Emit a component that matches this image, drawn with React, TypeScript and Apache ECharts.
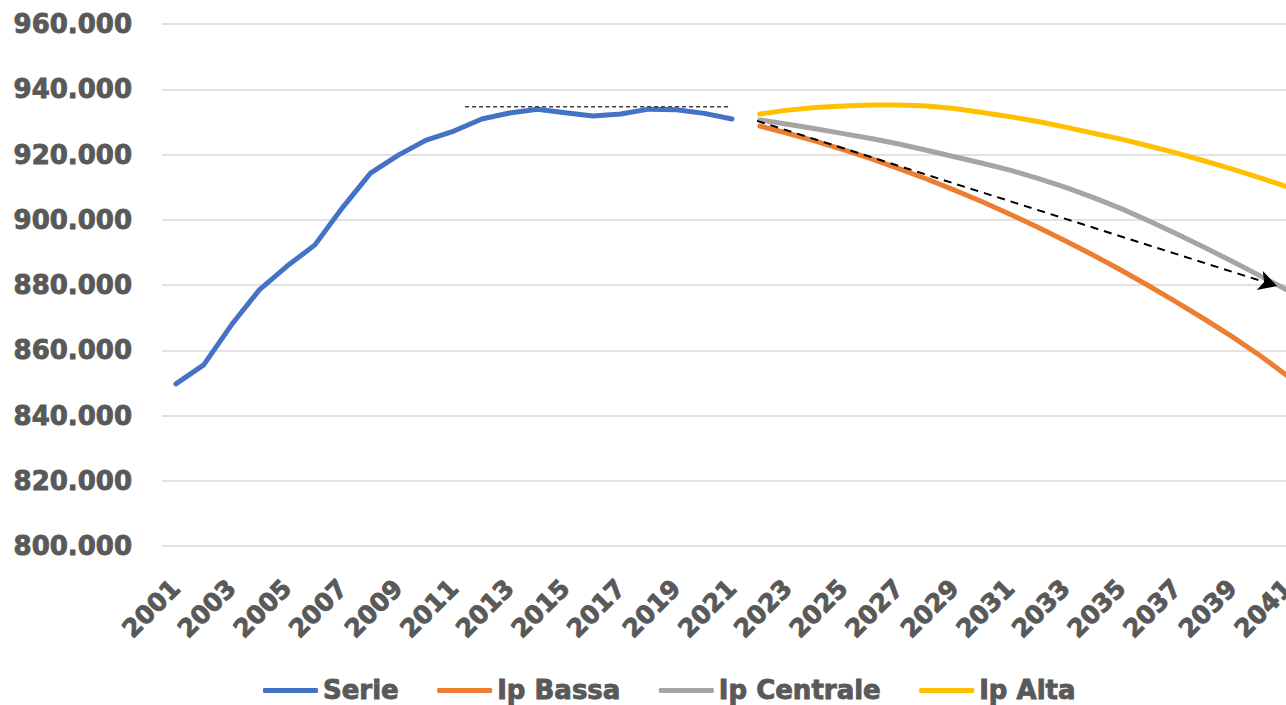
import React, { useEffect, useRef } from "react";
import * as echarts from "echarts";

const years: string[] = [];
for (let y = 2001; y <= 2041; y++) years.push(String(y));

const serieValues = [
  849700, 855500, 867800, 878500, 885800, 892300, 903800, 914300, 919800, 924400,
  927200, 930900, 932700, 933900, 932800, 931800, 932400, 933900, 933700, 932600,
  930900,
];

const ipBassaValues = [
  928700, 926500, 924100, 921500, 918700, 915700, 912500, 909100, 905500, 901700,
  897700, 893500, 889100, 884500, 879700, 874700, 869500, 864100, 858300, 852000,
];

const ipCentraleValues = [
  930600, 929300, 927900, 926400, 924900, 923200, 921300, 919300, 917300, 915200,
  912700, 909900, 906800, 903400, 899600, 895600, 891500, 887200, 882800, 878300,
];

const ipAltaValues = [
  932400, 933600, 934400, 934900, 935200, 935200, 934900, 934100, 932900, 931600,
  930100, 928400, 926500, 924700, 922600, 920400, 918000, 915500, 912800, 910000,
];

// reference guides: [category index, value]
const plateauLine = [
  [10.4, 934600],
  [19.9, 934600],
];
const trendArrow = [
  [20.9, 930300],
  [39.6, 879700],
];

const FONT = "DejaVu Sans";
const TEXT_COLOR = "#595959";

function fmt(v: number): string {
  const th = Math.floor(v / 1000);
  const rest = Math.round(v - th * 1000);
  return th + "." + String(rest).padStart(3, "0");
}

export default function App() {
  const ref = useRef<HTMLDivElement>(null);

  useEffect(() => {
    if (!ref.current) return;
    const chart = echarts.init(ref.current, undefined, { renderer: "svg" });

    const nHist = serieValues.length;
    const pad = (arr: number[], before: number) => [
      ...new Array(before).fill(null),
      ...arr,
    ];

    const lineBase = (name: string, color: string, data: (number | null)[]) => ({
      name,
      type: "line",
      data,
      symbol: "none",
      showSymbol: false,
      smooth: false,
      connectNulls: false,
      lineStyle: { color, width: 5, cap: "round", join: "round" },
      itemStyle: { color },
      z: 3,
    });

    const heavy = {
      fontFamily: FONT,
      fontWeight: "bold",
      color: TEXT_COLOR,
      textBorderColor: TEXT_COLOR,
      textBorderWidth: 0.9,
    };

    chart.setOption({
      animation: false,
      backgroundColor: "#ffffff",
      grid: { left: 162, right: 8, top: 24, height: 522, containLabel: false },
      legend: {
        data: ["Serie", "Ip Bassa", "Ip Centrale", "Ip Alta"],
        left: 258,
        top: 672,
        icon: "roundRect",
        itemWidth: 55,
        itemHeight: 5,
        itemGap: 38,
        textStyle: { ...heavy, fontSize: 26 },
      },
      xAxis: [
        {
          type: "category",
          data: years,
          boundaryGap: true,
          axisLine: { show: false },
          axisTick: { show: false },
          axisLabel: {
            interval: 1,
            rotate: 45,
            margin: 38,
            align: "right",
            verticalAlign: "middle",
            fontSize: 25,
            ...heavy,
          },
          splitLine: { show: false },
        },
        {
          type: "value",
          min: -0.5,
          max: 40.5,
          show: false,
          splitLine: { show: false },
        },
      ],
      yAxis: {
        type: "value",
        min: 800000,
        max: 960000,
        interval: 20000,
        axisLine: { show: false },
        axisTick: { show: false },
        axisLabel: {
          margin: 30,
          fontSize: 26,
          ...heavy,
          formatter: (v: number) => fmt(v),
        },
        splitLine: { lineStyle: { color: "#d9d9d9", width: 1.5 } },
      },
      series: [
        lineBase("Serie", "#4472C4", serieValues),
        lineBase("Ip Bassa", "#ED7D31", pad(ipBassaValues, nHist)),
        lineBase("Ip Centrale", "#A5A5A5", pad(ipCentraleValues, nHist)),
        lineBase("Ip Alta", "#FFC000", pad(ipAltaValues, nHist)),
        {
          name: "plateau",
          type: "line",
          xAxisIndex: 1,
          data: plateauLine,
          symbol: "none",
          lineStyle: { color: "#404040", width: 1.5, type: [4, 3] },
          z: 4,
          silent: true,
        },
        {
          name: "trend",
          type: "line",
          xAxisIndex: 1,
          data: [],
          symbol: "none",
          silent: true,
          markLine: {
            silent: true,
            symbol: ["none", "arrow"],
            symbolSize: [15, 18],
            label: { show: false },
            lineStyle: { color: "#000000", width: 2, type: [8, 6] },
            data: [
              [
                { coord: trendArrow[0] },
                { coord: trendArrow[1] },
              ],
            ],
          },
          z: 5,
        },
      ],
    });

    return () => chart.dispose();
  }, []);

  return (
    <div
      style={{
        position: "absolute",
        left: 0,
        top: 0,
        width: 1286,
        height: 705,
        overflow: "hidden",
      }}
    >
      <div ref={ref} style={{ width: 1310, height: 705 }} />
    </div>
  );
}
